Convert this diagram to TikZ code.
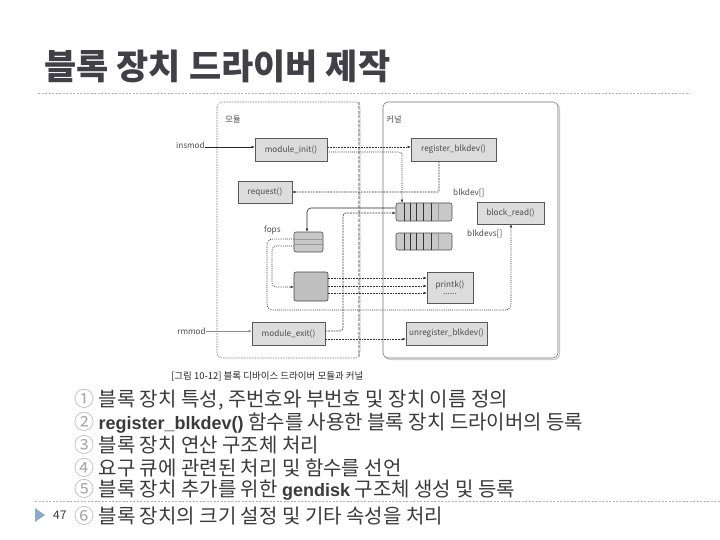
\documentclass[tikz,border=0pt]{standalone}
\usepackage{fontspec}
\setmainfont{Noto Sans CJK KR}
\newfontfamily\latbold{Liberation Sans}[Scale=0.9]
\usetikzlibrary{arrows.meta}
\definecolor{titlec}{HTML}{404046}
\definecolor{txtc}{HTML}{3A3A3A}
\definecolor{numc}{HTML}{A8A8A8}
\definecolor{boxf}{HTML}{DCDCDC}
\definecolor{arrf}{HTML}{C8C8C8}
\definecolor{triblue}{HTML}{8FA9C9}
\definecolor{linec}{HTML}{303030}
\newcommand{\lb}[1]{{\latbold\bfseries #1}}
\tikzset{
  x=1pt,y=-1pt,
  fbox/.style={draw=black!65,fill=boxf,line width=0.55pt,inner sep=0pt,font=\fontsize{8.2}{8.5}\selectfont,text=black!70},
  arr/.style={draw=black!70,fill=arrf,rounded corners=2pt,line width=0.55pt,inner sep=0pt},
  lab/.style={font=\fontsize{8.2}{8.5}\selectfont,text=black!70,inner sep=0pt},
  tip/.style={-{Latex[length=3.2pt,width=2.8pt]}},
  dsh/.style={tip,draw=linec,line width=0.6pt,dash pattern=on 1.8pt off 1pt},
  dtt/.style={tip,draw=linec,line width=0.6pt,dash pattern=on 0.9pt off 1pt},
  sol/.style={tip,draw=black!85,line width=0.6pt},
  item/.style={anchor=west,inner sep=0pt,font=\fontsize{20}{20}\selectfont,text=txtc}
}
\begin{document}
\begin{tikzpicture}
\useasboundingbox (0,0) rectangle (720,540);
% title
\node[anchor=west,inner sep=0pt,font=\fontsize{35}{36}\selectfont\bfseries,text=titlec] (title) at (44,66) {블록 장치 드라이버 제작};
\draw[black!30,line width=0.7pt,dash pattern=on 2pt off 1.5pt] (38,93) -- (690,93);
\draw[black!30,line width=0.7pt,dash pattern=on 2pt off 1.5pt] (35,501) -- (720,501);

% containers
\draw[black!50,line width=0.55pt,dash pattern=on 1.6pt off 1pt,rounded corners=5pt] (217,102) rectangle (360,358);
\draw[black!30,line width=2.2pt,dash pattern=on 3pt off 1.5pt] (359,102) -- (359,358);
\draw[black!20,line width=1.2pt,rounded corners=5pt] (384.5,103.5) rectangle (559.5,359.5);
\draw[black!55,line width=0.55pt,rounded corners=5pt,fill=white] (383,102) rectangle (558,358);
\node[lab] (lmod) at (233,120) {모듈};
\node[lab] (lker) at (394,119) {커널};

% boxes
\node[fbox,minimum width=72pt,minimum height=23pt] (mi) at (291,149.5) {module\_init()};
\node[fbox,minimum width=85pt,minimum height=23pt] (rb) at (453.5,149.5) {register\_blkdev()};
\node[fbox,minimum width=54pt,minimum height=22pt] (rq) at (265,192) {request()};
\node[fbox,minimum width=67pt,minimum height=22pt] (br) at (510.5,213) {block\_read()};
\node[fbox,minimum width=73pt,minimum height=23pt] (me) at (288.5,333.5) {module\_exit()};
\node[fbox,minimum width=81pt,minimum height=23pt] (ur) at (446.5,333.5) {unregister\_blkdev()};
\node[fbox,minimum width=46pt,minimum height=31pt,align=center] (pk) at (450,287.5) {printk()\\[-1pt]......};

% arrays
\node[arr,minimum width=56pt,minimum height=18pt] (ba) at (424,212) {};
\node[arr,minimum width=56pt,minimum height=17pt] (bs) at (424,241.5) {};
\foreach \xx in {404,410.5,416.5,423,431.5}{
  \draw[black!80,line width=0.55pt] (\xx,0 |- ba.north) -- (\xx,0 |- ba.south);
  \draw[black!80,line width=0.55pt] (\xx,0 |- bs.north) -- (\xx,0 |- bs.south);
}
\draw[black!40,line width=0.55pt] (438.5,0 |- ba.north) -- (438.5,0 |- ba.south);
\draw[black!40,line width=0.55pt] (438.5,0 |- bs.north) -- (438.5,0 |- bs.south);
\node[arr,minimum width=29pt,minimum height=20pt] (fa) at (308.5,242) {};
\draw[black!40,line width=0.55pt] (fa.west |- 0,239) -- (fa.east |- 0,239);
\draw[black!40,line width=0.55pt] (fa.west |- 0,244) -- (fa.east |- 0,244);
\node[arr,fill=black!25,draw=black!75,minimum width=34pt,minimum height=29pt] (gb) at (311,286.5) {};

\node[lab,anchor=west] (lbd) at (453,193) {blkdev[]};
\node[lab,anchor=west] (lbs) at (467,234) {blkdevs[]};
\node[lab,anchor=south west] (lfo) at (264,235) {fops};
\node[lab,anchor=east] (lin) at (205,145) {insmod};
\node[lab,anchor=east] (lrm) at (206,331) {rmmod};

% connectors
\draw[sol] (lin.east |- 0,147) -- (mi.west |- 0,147);
\draw[tip,draw=black!45,line width=0.55pt] (lrm.east |- 0,331) -- (me.west |- 0,331);
\draw[dsh] (mi.east |- 0,147) -- (rb.west |- 0,147);
\draw[dtt,rounded corners=3pt] (mi.east |- 0,152) -- (402,152) -- (402,0 |- ba.north);
\draw[dsh,rounded corners=1pt] (439,0 |- rb.south) -- (439,192) -- (rq.east);
\draw[sol,rounded corners=4pt] (ba.west |- 0,208) -- (307,208) -- (307,0 |- fa.north);
\draw[dsh,rounded corners=3pt] (me.east |- 0,331) -- (343,331) -- (343,213) -- (ba.west |- 0,213);
\draw[dsh] (me.east |- 0,339) -- (ur.west |- 0,339);
\draw[dtt,rounded corners=6pt] (fa.west |- 0,239) -- (267,239) -- (267,310) -- (511,310) -- (511,0 |- br.south);
\draw[dtt,rounded corners=4pt] (fa.west |- 0,246) -- (272,246) -- (272,287) -- (gb.west |- 0,287);
\foreach \yy in {278,286,293}{
  \draw[dsh] (gb.east |- 0,\yy) -- (pk.west |- 0,\yy);
}

% caption
\node[anchor=west,inner sep=0pt,font=\fontsize{9.5}{10}\selectfont,text=black!85] (cap) at (171,376) {[그림 10-12] 블록 디바이스 드라이버 모듈과 커널};

% list
\node[item] (i1) at (74,400) {{\color{numc}①} 블록 장치 특성, 주번호와 부번호 및 장치 이름 정의};
\node[item] (i2) at (74,423) {{\color{numc}②} \lb{register\_blkdev()} 함수를 사용한 블록 장치 드라이버의 등록};
\node[item] (i3) at (74,445) {{\color{numc}③} 블록 장치 연산 구조체 처리};
\node[item] (i4) at (74,468) {{\color{numc}④} 요구 큐에 관련된 처리 및 함수를 선언};
\node[item] (i5) at (74,490) {{\color{numc}⑤} 블록 장치 추가를 위한 \lb{gendisk} 구조체 생성 및 등록};
\node[item] (i6) at (74,516) {{\color{numc}⑥} 블록 장치의 크기 설정 및 기타 속성을 처리};

% footer
\fill[triblue] (35,508) -- (45,515) -- (35,522) -- cycle;
\node[anchor=west,inner sep=0pt,font=\fontsize{12}{12}\selectfont,text=txtc] (pg) at (53,515) {47};
\end{tikzpicture}
\end{document}
